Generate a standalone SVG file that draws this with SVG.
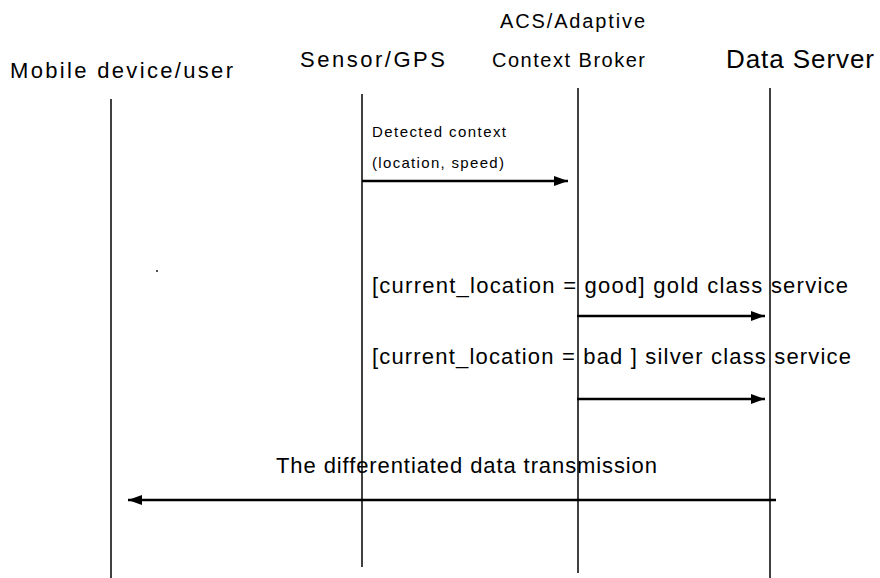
<svg xmlns="http://www.w3.org/2000/svg" width="880" height="578" viewBox="0 0 880 578">
<style>
  text { font-family: "Liberation Sans", Arial, sans-serif; fill: #000; }
  .hdr { font-size: 22px; }
  .hdr2 { font-size: 20px; }
  .small { font-size: 15px; }
  .msg { font-size: 22px; }
  .life { stroke: #000; stroke-width: 1.5; fill: none; }
  .arr { stroke: #000; stroke-width: 2.6; fill: none; marker-end: url(#ah); }
</style>
<defs>
  <marker id="ah" markerWidth="14" markerHeight="10" refX="14" refY="5" orient="auto" markerUnits="userSpaceOnUse">
    <path d="M0,0 L14,5 L0,10 Z" fill="#000"/>
  </marker>
</defs>
<rect width="880" height="578" fill="#fff"/>

<g id="mobile">
  <text class="hdr" x="10" y="78" textLength="223" lengthAdjust="spacing">Mobile device/user</text>
  <line class="life" x1="111" y1="99" x2="111" y2="578"/>
</g>
<g id="sensor">
  <text class="hdr" x="300" y="67" textLength="145" lengthAdjust="spacing">Sensor/GPS</text>
  <line class="life" x1="362" y1="94" x2="362" y2="567"/>
</g>
<g id="broker">
  <text class="hdr2" x="500" y="28" textLength="145" lengthAdjust="spacing">ACS/Adaptive</text>
  <text class="hdr2" x="492" y="67" textLength="153" lengthAdjust="spacing">Context Broker</text>
  <line class="life" x1="578" y1="88" x2="578" y2="573"/>
</g>
<g id="server">
  <text class="hdr" style="font-size:26px" x="726" y="68" textLength="148" lengthAdjust="spacing">Data Server</text>
  <line class="life" x1="770" y1="88" x2="770" y2="578"/>
</g>

<g id="connectors">
  <text class="small" x="372" y="137" textLength="134" lengthAdjust="spacing">Detected context</text>
  <text class="small" x="372" y="168" textLength="132" lengthAdjust="spacing">(location, speed)</text>
  <line class="arr" x1="362" y1="181" x2="568" y2="181"/>

  <text class="msg" x="372" y="293" textLength="476" lengthAdjust="spacing">[current_location = good] gold class service</text>
  <line class="arr" x1="577" y1="316" x2="765" y2="316"/>

  <text class="msg" x="372" y="364" textLength="479" lengthAdjust="spacing">[current_location = bad ] silver class service</text>
  <line class="arr" x1="577" y1="399" x2="765" y2="399"/>

  <text class="msg" x="276" y="473" textLength="381" lengthAdjust="spacing">The differentiated data transmission</text>
  <line class="arr" x1="776" y1="500" x2="128" y2="500"/>
</g>
<circle cx="157" cy="271" r="0.9" fill="#000"/>
</svg>
